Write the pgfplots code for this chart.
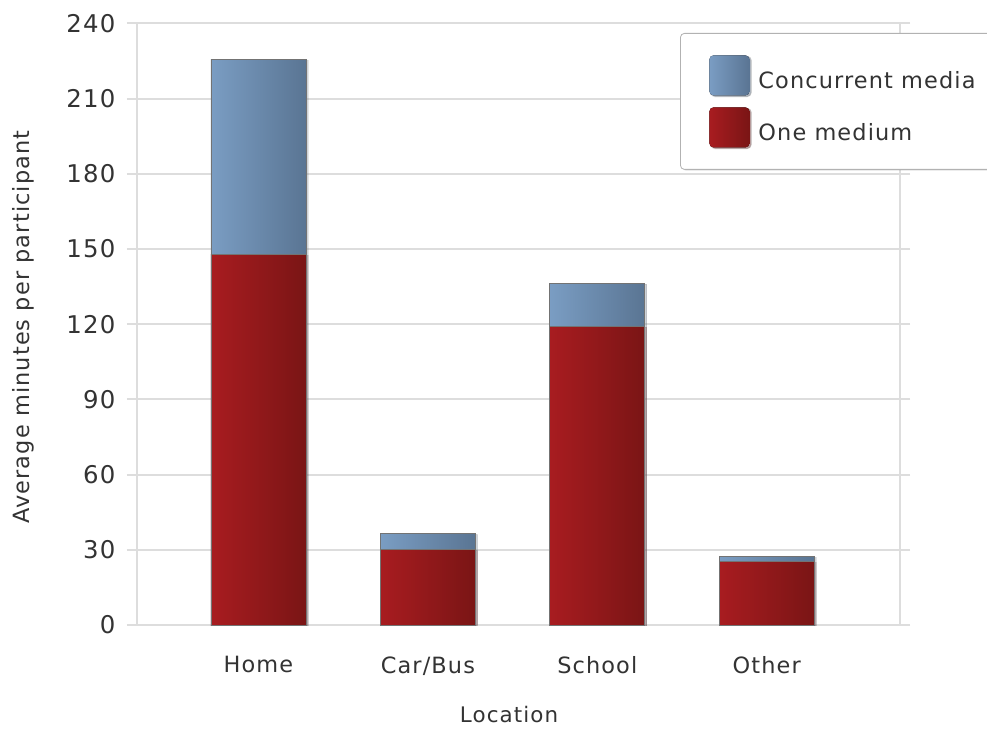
\documentclass[border=0pt]{standalone}
\usepackage{pgfplots}
\pgfplotsset{compat=1.18}
\usetikzlibrary{shadows}
\usepackage{fontspec}
\setmainfont{DejaVu Sans}
\newfontfamily\wfont{DejaVu Sans}[LetterSpace=5]
\definecolor{redL}{HTML}{A81C20}
\definecolor{redR}{HTML}{7A1515}
\definecolor{blueL}{HTML}{7A9DC3}
\definecolor{blueR}{HTML}{5A7593}
\definecolor{gridc}{HTML}{DDDDDD}
\definecolor{txt}{HTML}{333333}
\pgfplotsset{
  barbase/.style={ybar, bar shift=0pt, bar width=0.561, draw=black!55, line width=0.8bp,
    drop shadow={shadow xshift=2bp, shadow yshift=-1bp, opacity=0.18}},
  redbar/.style={barbase, left color=redL, right color=redR},
  bluebar/.style={barbase, left color=blueL, right color=blueR},
}
\begin{document}
\begin{tikzpicture}
\begin{axis}[
  scale only axis, width=763bp, height=601.7bp,
  xmin=-0.717, xmax=3.787, ymin=0, ymax=240,
  ytick={0,30,...,240},
  xtick={0,1,2,3}, xticklabels={Home,Car/Bus,School,Other},
  /pgf/number format/assume math mode=true,
  axis line style={gridc, line width=2bp},
  ymajorgrids, grid style={gridc, line width=2bp},
  major tick length=10bp, tick align=outside,
  ytick style={gridc, line width=2bp}, xtick style={draw=none},
  yticklabel style={font=\wfont\fontsize{24.5}{28}\selectfont, text=txt, xshift=-8bp},
  xticklabel style={font=\wfont\fontsize{22.5}{27}\selectfont, text=txt, yshift=-18bp},
  xlabel={Location}, ylabel={Average minutes per participant},
  xlabel style={font=\wfont\fontsize{21.5}{24}\selectfont, text=txt, inner sep=1bp, at={(axis description cs:0.4876,-0.1495)}, anchor=center},
  ylabel style={font=\wfont\fontsize{22.5}{25}\selectfont, text=txt, at={(axis description cs:-0.149,0.495)}, anchor=center},
  legend cell align=left,
  legend style={at={(axis description cs:0.7117,0.9839)}, anchor=north west,
    draw=black!30, line width=0.8bp, rounded corners=4bp, fill=white,
    drop shadow={shadow xshift=1.5bp, shadow yshift=-1.5bp, opacity=0.15},
    font=\wfont\fontsize{22.5}{26}\selectfont, text=txt,
    nodes={inner sep=0bp},
    inner xsep=29bp, inner ysep=22bp, row sep=12bp},
  legend image code/.code={\fill[#1,draw=none] (0bp,-14.5bp) rectangle (40bp,25.5bp);
    \pgfpathmoveto{\pgfpoint{49bp}{0bp}}\pgfusepath{discard}},
]
% Home
\addplot[bluebar] coordinates {(0,225.5)};
\addlegendentry{Concurrent media}
\addplot[redbar] coordinates {(0,147.7)};
\addlegendentry{One medium}
% Car/Bus
\addplot[bluebar, forget plot] coordinates {(1,36.4)};
\addplot[redbar, forget plot] coordinates {(1,30)};
% School
\addplot[bluebar, forget plot] coordinates {(2,136.4)};
\addplot[redbar, forget plot] coordinates {(2,119.2)};
% Other
\addplot[bluebar, forget plot] coordinates {(3,27.3)};
\addplot[redbar, forget plot] coordinates {(3,25.3)};
\end{axis}
\pgfresetboundingbox
\path (current axis.south west) ++(-137bp,-104bp) rectangle ++(987bp,729bp);
\end{tikzpicture}
\end{document}
